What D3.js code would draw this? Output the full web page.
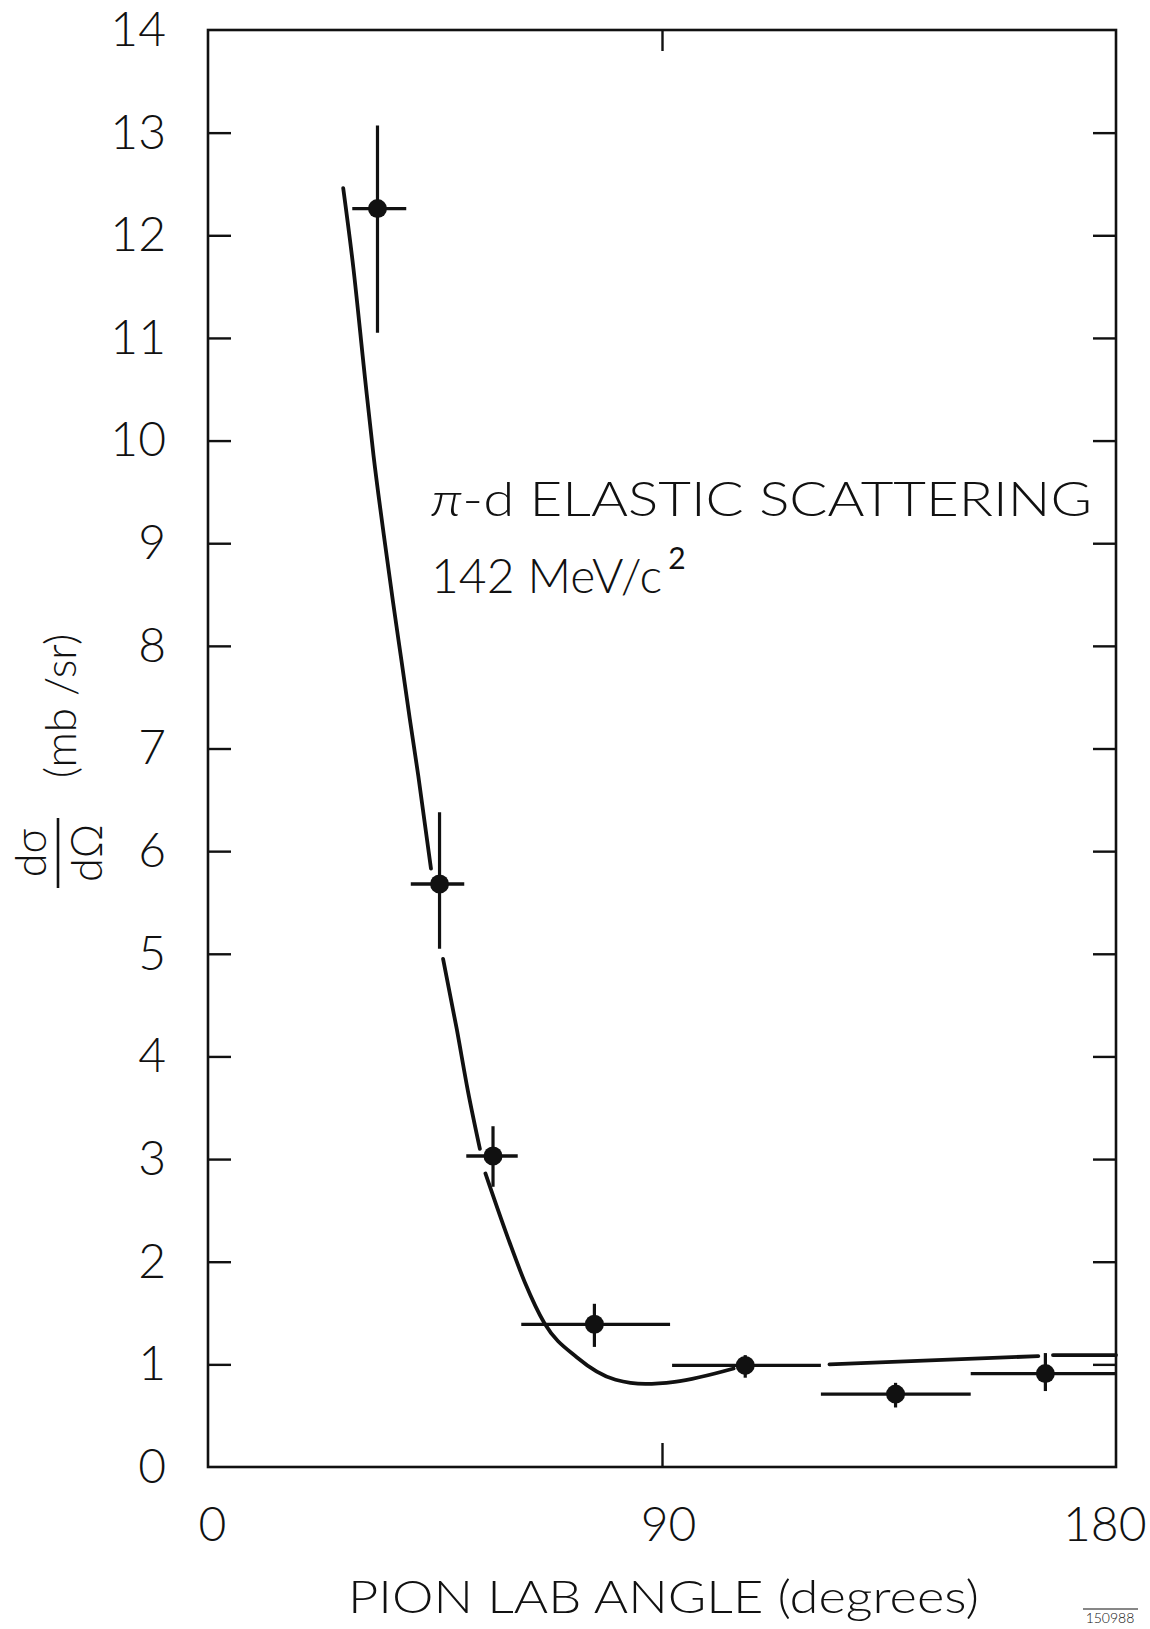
<!DOCTYPE html>
<html>
<head>
<meta charset="utf-8">
<script src="https://cdn.jsdelivr.net/npm/d3@7"></script>
<style>
  body { margin: 0; background: #fff; }
  svg { display: block; }
  text { font-family: Lato, "Liberation Sans", sans-serif; font-weight: 300; fill: #111; }
</style>
</head>
<body>
<svg width="1150" height="1629">
  <g class="frame-layer"></g>
  <g class="curve-layer"></g>
  <g class="points-layer"></g>
  <g class="text-layer"></g>
</svg>
<script>
/*------------------------
  ------ VARIABLES -------
  ------------------------*/

// measured points (pion lab angle in degrees, dsigma/dOmega in mb/sr)
var angles   = [33.6, 45.9, 56.5, 76.6, 106.5, 136.3, 166.0];
var values   = [12.26, 5.68, 3.03, 1.39, 0.99, 0.71, 0.91];
var angleLow = [28.6, 40.2, 51.2, 62.1, 92.0, 121.5, 151.2];
var angleHigh= [39.3, 50.8, 61.4, 91.6, 121.5, 151.2, 180];
var valueLow = [11.05, 5.05, 2.73, 1.17, 0.87, 0.58, 0.74];
var valueHigh= [13.07, 6.38, 3.32, 1.59, 1.09, 0.82, 1.11];

// theory curve, drawn in pieces (gaps around the points)
var curveSeg1 = [[26.8, 12.46], [28.8, 11.69], [31.1, 10.62], [32.8, 9.86], [34.8, 9.10],
                 [36.7, 8.42], [38.4, 7.84], [40.0, 7.29], [41.7, 6.73], [44.2, 5.83]];
var curveSeg2 = [[46.6, 4.95], [49.3, 4.27], [51.5, 3.67], [53.9, 3.10]];
var curveSeg3 = [[55.0, 2.86], [59.4, 2.24], [62.8, 1.80], [66.7, 1.40], [73.1, 1.07],
                 [80.8, 0.85], [86.7, 0.81], [92.5, 0.83], [104.2, 0.96]];
var curveSeg4 = [[123.2, 1.00], [164.6, 1.08]];
var curveSeg5 = [[167.5, 1.09], [180, 1.09]];
var curveSegs = [curveSeg1, curveSeg2, curveSeg3, curveSeg4, curveSeg5];

// ticks
var xTickLabels = [0, 90, 180];
var yTickLabels = d3.range(0, 15);
var yInnerTicks = d3.range(1, 14);

// display settings
var plot = {left: 208, right: 1116, top: 30, bottom: 1467};
var ink = "#111";

var x = d3.scaleLinear().domain([0, 180]).range([plot.left, plot.right]);
var y = d3.scaleLinear().domain([0, 14]).range([plot.bottom, plot.top]);

var points = angles.map(function(a, i) {
    return {a: a, v: values[i], a0: angleLow[i], a1: angleHigh[i], v0: valueLow[i], v1: valueHigh[i]};
});


/*------------------------
  ------- FRAME ----------
  ------------------------*/

function display_frame() {
    var g = d3.select(".frame-layer");

    g.append("rect")
        .attr("x", plot.left)
        .attr("y", plot.top)
        .attr("width", plot.right - plot.left)
        .attr("height", plot.bottom - plot.top)
        .attr("fill", "none")
        .attr("stroke", ink)
        .attr("stroke-width", 2.6);

    // inner ticks left and right
    g.append("g")
        .attr("transform", "translate(" + plot.left + ",0)")
        .call(d3.axisLeft(y).tickValues(yInnerTicks).tickSize(-23).tickFormat(""))
        .call(function(s) { s.select(".domain").remove(); });
    g.append("g")
        .attr("transform", "translate(" + plot.right + ",0)")
        .call(d3.axisRight(y).tickValues(yInnerTicks).tickSize(-23).tickFormat(""))
        .call(function(s) { s.select(".domain").remove(); });
    // 90 degree ticks top and bottom
    g.append("g")
        .attr("transform", "translate(0," + plot.bottom + ")")
        .call(d3.axisBottom(x).tickValues([90]).tickSize(-24).tickFormat(""))
        .call(function(s) { s.select(".domain").remove(); });
    g.append("g")
        .attr("transform", "translate(0," + plot.top + ")")
        .call(d3.axisTop(x).tickValues([90]).tickSize(-21).tickFormat(""))
        .call(function(s) { s.select(".domain").remove(); });
    g.selectAll(".tick line").attr("stroke", ink).attr("stroke-width", 2.4);

    // tick labels
    var yl = g.append("g")
        .attr("transform", "translate(" + plot.left + ",0)")
        .call(d3.axisLeft(y).tickValues(yTickLabels).tickSize(0).tickPadding(42).tickFormat(d3.format("d")));
    yl.select(".domain").remove();
    yl.selectAll("text").attr("font-size", 48).attr("font-family", null).attr("fill", ink);

    var xl = g.append("g")
        .attr("transform", "translate(0," + plot.bottom + ")")
        .call(d3.axisBottom(x).tickValues(xTickLabels).tickSize(0).tickPadding(40).tickFormat(d3.format("d")));
    xl.select(".domain").remove();
    xl.selectAll("text")
        .attr("font-size", 48).attr("font-family", null).attr("fill", ink)
        .attr("text-anchor", function(d) { return d === 180 ? "end" : "middle"; })
        .attr("dx", function(d) { return d === 180 ? 30 : (d === 90 ? 6 : 4); });
}


/*------------------------
  ------- CURVE ----------
  ------------------------*/

function display_curve() {
    var line = d3.line()
        .x(function(d) { return x(d[0]); })
        .y(function(d) { return y(d[1]); })
        .curve(d3.curveMonotoneX);

    d3.select(".curve-layer").selectAll("path")
        .data(curveSegs)
        .enter()
        .append("path")
        .attr("d", line)
        .attr("fill", "none")
        .attr("stroke", ink)
        .attr("stroke-width", 3.8)
        .attr("stroke-linecap", "round");
}


/*------------------------
  ------- POINTS ---------
  ------------------------*/

function display_points() {
    var g = d3.select(".points-layer");

    g.selectAll("line.hbar")
        .data(points)
        .enter()
        .append("line")
        .attr("class", "hbar")
        .attr("x1", function(d) { return x(d.a0); })
        .attr("x2", function(d) { return x(d.a1); })
        .attr("y1", function(d) { return y(d.v); })
        .attr("y2", function(d) { return y(d.v); })
        .attr("stroke", ink)
        .attr("stroke-width", 3.4);

    g.selectAll("line.vbar")
        .data(points)
        .enter()
        .append("line")
        .attr("class", "vbar")
        .attr("x1", function(d) { return x(d.a); })
        .attr("x2", function(d) { return x(d.a); })
        .attr("y1", function(d) { return y(d.v0); })
        .attr("y2", function(d) { return y(d.v1); })
        .attr("stroke", ink)
        .attr("stroke-width", 3.2);

    g.selectAll("circle")
        .data(points)
        .enter()
        .append("circle")
        .attr("cx", function(d) { return x(d.a); })
        .attr("cy", function(d) { return y(d.v); })
        .attr("r", 9.5)
        .attr("fill", ink);
}


/*------------------------
  -------- TEXTS ---------
  ------------------------*/

function display_texts() {
    var g = d3.select(".text-layer");

    var t1 = g.append("text")
        .attr("x", 431).attr("y", 516)
        .attr("font-size", 48)
        .attr("textLength", 661).attr("lengthAdjust", "spacingAndGlyphs");
    t1.append("tspan").attr("font-style", "italic").text("π");
    t1.append("tspan").text("-d ELASTIC  SCATTERING");

    var t2 = g.append("text")
        .attr("x", 431).attr("y", 593)
        .attr("font-size", 48);
    t2.append("tspan").text("142  MeV/c");
    t2.append("tspan").attr("font-size", 30).attr("font-weight", 400).attr("dx", 6).attr("dy", -24).text("2");

    // x title
    g.append("text")
        .attr("x", 348).attr("y", 1613)
        .attr("font-size", 46)
        .attr("textLength", 631).attr("lengthAdjust", "spacingAndGlyphs")
        .text("PION  LAB  ANGLE  (degrees)");

    // y title, rotated
    g.append("text")
        .attr("transform", "translate(76,706) rotate(-90)")
        .attr("text-anchor", "middle")
        .attr("font-size", 44)
        .text("(mb /sr)");
    g.append("text")
        .attr("transform", "translate(46,853) rotate(-90)")
        .attr("text-anchor", "middle")
        .attr("font-size", 43)
        .text("dσ");
    g.append("text")
        .attr("transform", "translate(102,853) rotate(-90)")
        .attr("text-anchor", "middle")
        .attr("font-size", 43)
        .text("dΩ");
    g.append("line")
        .attr("x1", 58).attr("x2", 58)
        .attr("y1", 818).attr("y2", 888)
        .attr("stroke", ink).attr("stroke-width", 2.6);

    // figure number
    g.append("text")
        .attr("x", 1110).attr("y", 1623)
        .attr("text-anchor", "middle")
        .attr("font-size", 14)
        .attr("font-weight", 400)
        .text("150988");
    g.append("line")
        .attr("x1", 1083).attr("x2", 1138)
        .attr("y1", 1609).attr("y2", 1609)
        .attr("stroke", ink).attr("stroke-width", 1.2);
}

/*------------------
  ------ RUN -------
  ------------------*/

display_frame();
display_curve();
display_points();
display_texts();
</script>
</body>
</html>
